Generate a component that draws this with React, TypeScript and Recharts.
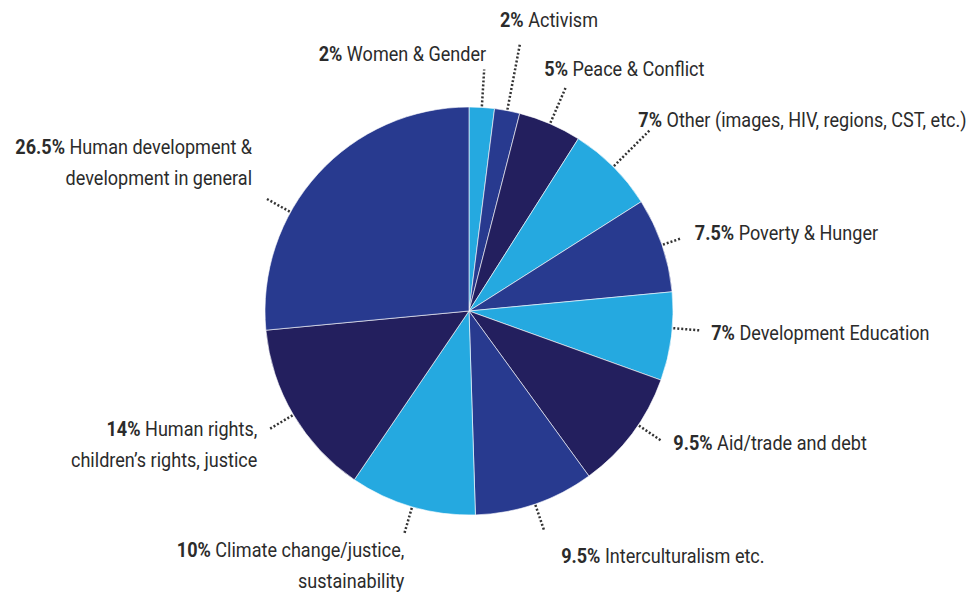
import { PieChart, Pie, Cell } from 'recharts';

const categories = [
  'Women & Gender',
  'Activism',
  'Peace & Conflict',
  'Other (images, HIV, regions, CST, etc.)',
  'Poverty & Hunger',
  'Development Education',
  'Aid/trade and debt',
  'Interculturalism etc.',
  'Climate change/justice,|sustainability',
  'Human rights,|children’s rights, justice',
  'Human development &|development in general',
];

const shares = [2, 2, 5, 7, 7.5, 7, 9.5, 9.5, 10, 14, 26.5];

const LIGHT = '#25a9e0';
const MID = '#283a8f';
const DARK = '#231f5e';
const sliceColors = [LIGHT, MID, DARK, LIGHT, MID, LIGHT, DARK, MID, LIGHT, DARK, MID];

// leader line / text placement per slice (outer radius of line end, text offset from line end)
const labelLayout = [
  { r: 242, dx: 2, dy: -16, anchor: 'end' },
  { r: 272, dx: -20, dy: -24, anchor: 'start' },
  { r: 245, dx: -22, dy: -18, anchor: 'start' },
  { r: 255, dx: -11, dy: -11, anchor: 'start' },
  { r: 225, dx: 13, dy: -6, anchor: 'start' },
  { r: 232, dx: 11, dy: 2, anchor: 'start', angle: -4.8 },
  { r: 232, dx: 12, dy: 2, anchor: 'start', angle: -34 },
  { r: 232, dx: 17, dy: 25, anchor: 'start' },
  { r: 232, dx: 0, dy: 16, anchor: 'end' },
  { r: 232, dx: -12, dy: -1, anchor: 'end' },
  { r: 232, dx: -14, dy: -52, anchor: 'end', angle: 151 },
];

const data = categories.map((name, i) => ({ name, value: shares[i] }));

const RADIAN = Math.PI / 180;
const FONT = 'Roboto, "Liberation Sans", sans-serif';
const SX = 0.86; // horizontal squeeze to mimic the condensed face

const renderLabel = (props: any) => {
  const { cx, cy, midAngle, outerRadius, index } = props;
  const lay = labelLayout[index];
  const ang = (lay.angle ?? midAngle) * RADIAN;
  const x0 = cx + (outerRadius + 1) * Math.cos(ang);
  const y0 = cy - (outerRadius + 1) * Math.sin(ang);
  const x1 = cx + lay.r * Math.cos(ang);
  const y1 = cy - lay.r * Math.sin(ang);
  const lines = categories[index].split('|');
  const tx = x1 + lay.dx;
  const ty = y1 + lay.dy;
  return (
    <g key={`lbl-${index}`}>
      <line x1={x0} y1={y0} x2={x1} y2={y1} stroke="#333" strokeWidth={2.5} strokeDasharray="2 2" />
      <g transform={`translate(${tx},${ty}) scale(${SX},1)`}>
        <text
          x={0}
          y={0}
          textAnchor={lay.anchor}
          dominantBaseline="central"
          fontFamily={FONT}
          fontSize={21}
          fill="#2b2b2b"
        >
          {lines.map((ln, j) => (
            <tspan key={j} x={0} dy={j === 0 ? 0 : 31}>
              {j === 0 && <tspan fontWeight={700}>{`${shares[index]}% `}</tspan>}
              {ln}
            </tspan>
          ))}
        </text>
      </g>
    </g>
  );
};

export default function App() {
  return (
    <div style={{ position: 'absolute', left: 0, top: 0, background: '#fff' }}>
      <PieChart width={973} height={595} margin={{ top: 0, right: 0, bottom: 0, left: 0 }}>
        <Pie
          data={data}
          dataKey="value"
          nameKey="name"
          cx={469}
          cy={311}
          outerRadius={204}
          startAngle={90}
          endAngle={-270}
          stroke="#ffffff"
          strokeWidth={0.6}
          label={renderLabel}
          labelLine={false}
          isAnimationActive={false}
        >
          {data.map((entry, index) => (
            <Cell key={`cell-${index}`} fill={sliceColors[index]} />
          ))}
        </Pie>
      </PieChart>
    </div>
  );
}
